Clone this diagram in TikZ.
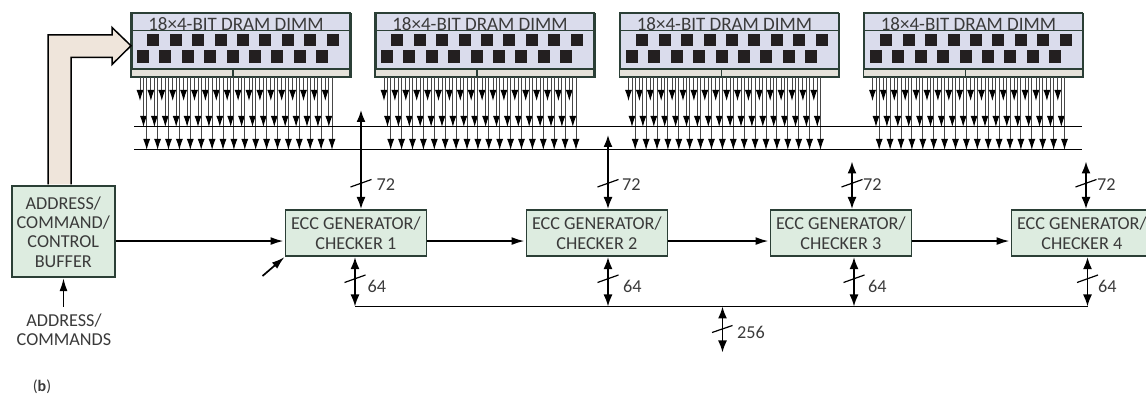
\documentclass[tikz,border=0pt]{standalone}
\usepackage{fontspec}
\setmainfont{Carlito}
\usetikzlibrary{arrows.meta}
\definecolor{boxgreen}{HTML}{DDECE0}
\definecolor{boxedge}{HTML}{2B3F36}
\definecolor{dimmblue}{HTML}{DADCEC}
\definecolor{slotgrey}{HTML}{E5E2DA}
\definecolor{widetan}{HTML}{EFE5DB}
\definecolor{inktext}{HTML}{3A3A3A}
\definecolor{chipblack}{HTML}{231F20}
\tikzset{
 x=1pt,y=-1pt,
 eccbox/.style={draw=boxedge,line width=1.6pt,fill=boxgreen,minimum width=141pt,minimum height=46.5pt,inner sep=0pt,anchor=north west,text=inktext,font=\fontsize{18.2}{19.8}\selectfont,align=center},
 bufbox/.style={draw=boxedge,line width=1.6pt,fill=boxgreen,minimum width=103pt,minimum height=91pt,inner sep=0pt,anchor=north west,text=inktext,font=\fontsize{18.2}{19.3}\selectfont,align=center},
 lbl/.style={text=inktext,font=\fontsize{18.2}{19.3}\selectfont,align=center,inner sep=0pt},
 sig/.style={line width=1.7pt,-{Latex[length=13pt,width=8pt]}},
 bisig/.style={line width=1.7pt,{Latex[length=12pt,width=9pt]}-{Latex[length=12pt,width=9pt]}},
 pin/.style={line width=1pt,draw=black!72,-{Latex[length=11pt,width=7pt,color=black,fill=black]},shorten >=-.5pt},
 bus/.style={line width=1.8pt},
 tick/.style={line width=1.2pt},
}
\newcommand{\dimm}[2]{%
 \begin{scope}[shift={(#1,0)}]
  \node[draw=boxedge,line width=1.5pt,fill=dimmblue,minimum width=219pt,minimum height=64pt,inner sep=0pt,anchor=north west] (#2) at (0,13) {};
  \node[text=inktext,inner sep=0pt,anchor=base,font=\fontsize{19}{22}\selectfont] at (105,30.5) {18×4-BIT DRAM DIMM};
  \draw[line width=1pt,draw=boxedge] (0,30.5) -- (219,30.5);
  \fill[slotgrey] (0,69) rectangle (219,77);
  \draw[line width=1.2pt,draw=boxedge] (0,69) -- (219,69) (102,69) -- (102,77);
  \draw[line width=1.5pt,draw=boxedge] (0,13) rectangle (219,77);
  \foreach \cx in {16,39,61,84,106,128,151,173,196} \fill[chipblack] (\cx,34) rectangle +(12,12.5);
  \foreach \cx in {6,28,51,73,96,118,140,163,185} \fill[chipblack] (\cx,50) rectangle +(12,13);
  \foreach \i in {0,...,17} {
   \pgfmathsetmacro{\xa}{9+10.9*\i}
   \pgfmathsetmacro{\xb}{12.5+10.9*\i}
   \pgfmathsetmacro{\xc}{15.7+10.9*\i}
   \draw[pin] (\xa,77.5) -- (\xa,100.5);
   \draw[pin] (\xb,77.5) -- (\xb,126.5);
   \draw[pin] (\xc,77.5) -- (\xc,149.5);
  }
 \end{scope}}
\begin{document}
\begin{tikzpicture}
\useasboundingbox (0,0) rectangle (1146,395);
% wide arrow
\node[bufbox] (buf) at (11,185.5) {ADDRESS/\\COMMAND/\\CONTROL\\BUFFER};
\dimm{131}{d1}
\dimm{375}{d2}
\dimm{619.5}{d3}
\dimm{863.5}{d4}
\coordinate (wideend) at (d1.west);
\draw[line width=1.5pt,draw=black,fill=widetan] (48,184.5) -- (48,35) -- (112,35) -- (112,27.5) -- (wideend) -- (112,64.5) -- (112,57.5) -- (71,57.5) -- (71,184.5);
% buses
\coordinate (b1a) at (134,126.5); \coordinate (b1b) at (1082,126.5);
\coordinate (b2a) at (134,149.5); \coordinate (b2b) at (1082,149.5);
\draw[bus] (b1a) -- (b1b);
\draw[bus] (b2a) -- (b2b);
% ECC
\node[eccbox] (e1) at (284.5,209) {ECC GENERATOR/\\CHECKER 1};
\node[eccbox] (e2) at (525.5,209) {ECC GENERATOR/\\CHECKER 2};
\node[eccbox] (e3) at (769.5,209) {ECC GENERATOR/\\CHECKER 3};
\node[eccbox] (e4) at (1010.5,209) {ECC GENERATOR/\\CHECKER 4};
\draw[sig] ([yshift=-8pt]buf.east |- e1.west) -- ([yshift=-8pt,xshift=-1pt]e1.west);
\draw[sig] ([yshift=-8pt]e1.east) -- ([yshift=-8pt,xshift=-1pt]e2.west);
\draw[sig] ([yshift=-8pt]e2.east) -- ([yshift=-8pt,xshift=-1pt]e3.west);
\draw[sig] ([yshift=-8pt]e3.east) -- ([yshift=-8pt,xshift=-1pt]e4.west);
% address in
\coordinate (addrtail) at (63.5,307);
\draw[sig] (addrtail) -- (addrtail |- buf.south);
\node[lbl] (addr) at (64,329.5) {ADDRESS/\\COMMANDS};
% loose arrow
\coordinate (loose) at (262.5,276);
\draw[sig] (loose) -- (e1.south west);
% 72 links: number / x / top tip / label x
\foreach \n/\x/\t/\lx in {1/361/110/376.5,2/608/135/622,3/852/161.5/863,4/1086/161.5/1097} {
 \coordinate (up\n) at (\x,\t);
 \draw[bisig] (up\n) -- (up\n |- e\n.north);
 \draw[tick] (\x-10.5,187) -- (\x+10.5,179.5);
 \node[lbl,anchor=west] (lab\n) at (\lx,184.5) {72};
}
% 64 links
\foreach \n/\x/\lx in {1/355/367.5,2/608/623,3/854/868,4/1087.5/1098} {
 \coordinate (dn\n) at (\x,306.5);
 \draw[bisig] (dn\n) -- (dn\n |- e\n.south);
 \draw[tick] (\x-10.5,282.5) -- (\x+10.5,275);
 \node[lbl,anchor=west] (labb\n) at (\lx,286) {64};
}
\draw[bus] (dn1) -- (dn4);
% 256
\coordinate (ext) at (722.5,352.5);
\coordinate (extb) at (722.5,306.5);
\draw[bisig] (ext) -- (extb);
\draw[tick] (712,332.5) -- (732.5,325.5);
\node[lbl,anchor=west] (lab256) at (737,332) {256};
\node[lbl,anchor=center,font=\fontsize{16}{17}\selectfont] (tag) at (42,387) {(\textbf{b})};
\end{tikzpicture}
\end{document}
